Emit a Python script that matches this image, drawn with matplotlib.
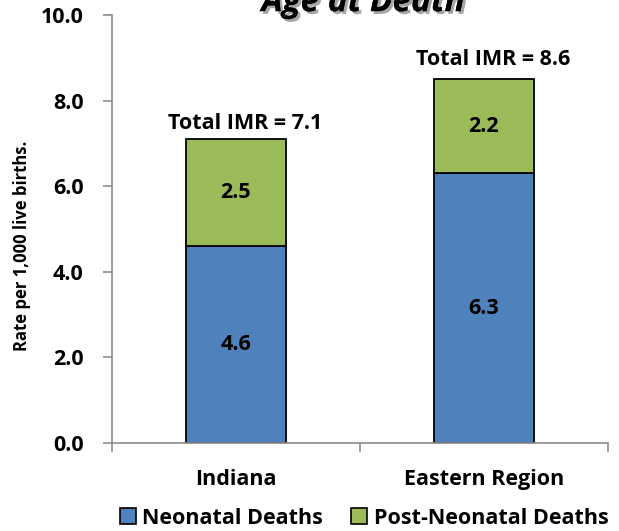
import matplotlib.pyplot as plt
import matplotlib.patheffects as pe
import numpy as np

# ---- data ----
regions = ['Indiana', 'Eastern Region']
neonatal = [4.6, 6.3]
post_neonatal = [2.5, 2.2]
total_imr = [7.1, 8.6]
series_names = ['Neonatal Deaths', 'Post-Neonatal Deaths']
yticks = [0.0, 2.0, 4.0, 6.0, 8.0, 10.0]

BLUE = '#4F81BD'
GREEN = '#9BBB59'
GRAY = '#8C8C8C'

plt.rcParams['font.family'] = ['Open Sans', 'DejaVu Sans']
plt.rcParams['font.weight'] = 'bold'
FS = 15.5

fig = plt.figure(figsize=(6.19, 5.31), dpi=100)
ax = fig.add_axes([0.1809, 0.1657, 0.8013, 0.806])

x = np.arange(len(regions)) + 0.5
ax.bar(x, neonatal, width=0.403, color=BLUE, edgecolor='black', lw=1.3, label=series_names[0])
ax.bar(x, post_neonatal, width=0.403, bottom=neonatal, color=GREEN, edgecolor='black', lw=1.3,
       label=series_names[1])

for i in range(len(regions)):
    ax.text(x[i], neonatal[i] / 2, '%.1f' % neonatal[i], ha='center', va='center', fontsize=FS, fontweight='bold')
    ax.text(x[i], neonatal[i] + post_neonatal[i] / 2, '%.1f' % post_neonatal[i], ha='center', va='center',
            fontsize=FS, fontweight='bold')
    ax.text(x[i] + 0.035, total_imr[i] + 0.23, 'Total IMR = %.1f' % total_imr[i], ha='center', va='baseline',
            fontsize=FS, fontweight='bold')

ax.set_xlim(0, len(regions))
ax.set_ylim(0, 10)
ax.set_yticks(yticks)
ax.set_yticklabels(['%.1f' % v for v in yticks], fontsize=FS, fontweight='bold')
ax.set_xticks([0, 1, 2])
ax.set_xticklabels([])
ax.set_xticks(x, minor=True)
ax.set_xticklabels(regions, minor=True, fontsize=FS, fontweight='bold')
ax.tick_params(axis='x', which='minor', length=0, pad=19)
ax.tick_params(axis='x', which='major', length=6.5, width=1.2, color=GRAY, direction='out')
ax.tick_params(axis='y', length=6.5, width=1.2, color=GRAY, direction='out', pad=14)
for s in ['top', 'right']:
    ax.spines[s].set_visible(False)
for s in ['left', 'bottom']:
    ax.spines[s].set_color(GRAY)
    ax.spines[s].set_linewidth(1.2)
ax.set_ylabel('Rate per 1,000 live births.', fontsize=12, fontweight='bold', labelpad=8)
ax.yaxis.set_label_coords(-0.163, 0.46)

# title sits partly above the top edge, as in the original
fig.text(0.587, 0.979, 'Age at Death', ha='center', va='baseline', fontsize=24, fontweight='bold',
         style='italic', path_effects=[pe.withSimplePatchShadow(offset=(2, -2), alpha=0.35), pe.Normal()])

h1 = plt.Rectangle((0, 0), 1, 1, facecolor=BLUE, edgecolor='black', lw=1.2)
h2 = plt.Rectangle((0, 0), 1, 1, facecolor=GREEN, edgecolor='black', lw=1.2)
fig.legend([h1, h2], series_names, loc='center', bbox_to_anchor=(0.588, 0.024), ncol=2, frameon=False,
           prop={'size': FS, 'weight': 'bold'}, handlelength=0.75, handleheight=0.75, handletextpad=0.3,
           columnspacing=1.3, borderpad=0)

plt.savefig('out.png', dpi=100)
